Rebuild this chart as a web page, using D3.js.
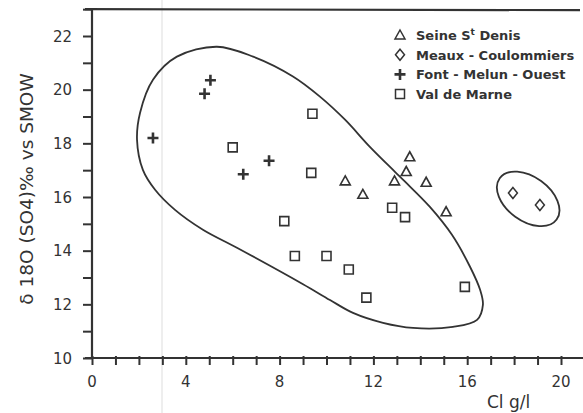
<!DOCTYPE html>
<html>
<head>
<meta charset="utf-8">
<script src="https://cdn.jsdelivr.net/npm/d3@7"></script>
<style>
  body { margin: 0; background: #fff; }
  text { font-family: "DejaVu Sans", sans-serif; fill: #333; }
</style>
</head>
<body>
<svg id="chart"></svg>
<script>
// data (Cl g/l, d18O)
const seineStDenis = [[10.8, 16.6], [11.55, 16.1], [12.9, 16.6], [13.4, 16.95], [13.55, 17.5], [14.25, 16.55], [15.1, 15.45]];
const meauxCoulommiers = [[17.95, 16.15], [19.1, 15.7]];
const fontMelunOuest = [[2.6, 18.2], [4.8, 19.85], [5.05, 20.35], [6.45, 16.85], [7.55, 17.35]];
const valDeMarne = [[6.0, 17.85], [9.4, 19.1], [9.35, 16.9], [8.2, 15.1], [12.8, 15.6], [13.35, 15.25], [8.65, 13.8], [10.0, 13.8], [10.95, 13.3], [11.7, 12.25], [15.9, 12.65]];
const legendLabels = ['Seine St Denis', 'Meaux - Coulommiers', 'Font - Melun - Ouest', 'Val de Marne'];
const xTickLabels = [0, 4, 8, 12, 16, 20];
const yTickLabels = [10, 12, 14, 16, 18, 20, 22];

// hand drawn outlines (data space)
const bigOutline = [[5.33, 21.6], [6.87, 21.23], [8.57, 20.49], [9.72, 19.74], [10.79, 18.88], [11.85, 17.87], [12.92, 16.94],
  [13.35, 16.57], [14.41, 15.63], [15.35, 14.59], [16.12, 13.4], [16.55, 12.54], [16.67, 11.98], [16.42, 11.42], [15.39, 11.16],
  [13.69, 11.12], [12.41, 11.31], [11.13, 11.68], [10.15, 12.16], [9.0, 12.75], [6.2, 14.1], [4.73, 14.78],
  [3.54, 15.52], [2.69, 16.27], [2.17, 17.01], [1.92, 18.13], [2.05, 19.14], [2.6, 20.37], [3.62, 21.23]];
const smallOutline = { cx: 18.6, cy: 15.93, rx: 1.5, ry: 0.82, angle: 36 };

const W = 583, H = 413;
const svg = d3.select('#chart').attr('width', W).attr('height', H);

const x = d3.scaleLinear().domain([0, 20]).range([92, 561]);
const y = d3.scaleLinear().domain([10, 22]).range([358, 36]);
const ink = '#333';

// scan artifact line
svg.append('line').attr('x1', 162).attr('x2', 162).attr('y1', 0).attr('y2', H)
  .attr('stroke', '#ddd').attr('stroke-width', 1);

// axes
const xaxis = d3.axisBottom(x).tickValues(d3.range(0, 22)).tickSize(7).tickFormat('');
const xg = svg.append('g').attr('transform', `translate(0, ${y(10)})`).call(xaxis);
xg.select('.domain').remove();
xg.selectAll('line').attr('stroke', ink).attr('stroke-width', 2).attr('y1', -2);
svg.append('line').attr('x1', 85).attr('x2', W).attr('y1', y(10)).attr('y2', y(10))
  .attr('stroke', ink).attr('stroke-width', 2.2);

const yaxis = d3.axisLeft(y).tickValues(d3.range(10, 24)).tickSize(9).tickFormat('');
const yg = svg.append('g').attr('transform', `translate(${x(0)}, 0)`).call(yaxis);
yg.select('.domain').remove();
yg.selectAll('line').attr('stroke', ink).attr('stroke-width', 2);
svg.append('line').attr('x1', x(0)).attr('x2', x(0)).attr('y1', y(23)).attr('y2', y(10))
  .attr('stroke', ink).attr('stroke-width', 2.2);
// top frame
svg.append('line').attr('x1', 85).attr('x2', 580).attr('y1', y(23)).attr('y2', y(23) + 1)
  .attr('stroke', ink).attr('stroke-width', 2.2);

svg.selectAll('.xl').data(xTickLabels).join('text')
  .attr('x', d => x(d)).attr('y', 387).attr('text-anchor', 'middle')
  .style('font-size', '15px').text(d => d);
svg.selectAll('.yl').data(yTickLabels).join('text')
  .attr('x', 72).attr('y', d => y(d) + 5.5).attr('text-anchor', 'end')
  .style('font-size', '15px').text(d => d);

svg.append('text').attr('transform', 'translate(33, 189) rotate(-90)')
  .attr('text-anchor', 'middle').style('font-size', '18.5px')
  .text('δ 18O (SO4)‰ vs SMOW');
svg.append('text').attr('x', 487).attr('y', 408).style('font-size', '17px').text('Cl g/l');

// outlines
svg.append('path').datum(bigOutline)
  .attr('d', d3.line().x(d => x(d[0])).y(d => y(d[1])).curve(d3.curveCatmullRomClosed.alpha(0.5)))
  .attr('fill', 'none').attr('stroke', ink).attr('stroke-width', 1.8);
svg.append('ellipse')
  .attr('cx', 0).attr('cy', 0)
  .attr('rx', x(smallOutline.rx) - x(0)).attr('ry', y(10) - y(10 + smallOutline.ry))
  .attr('transform', `translate(${x(smallOutline.cx)}, ${y(smallOutline.cy)}) rotate(${smallOutline.angle})`)
  .attr('fill', 'none').attr('stroke', ink).attr('stroke-width', 1.8);

// marker shapes
const shapes = {
  tri: 'M0,-5L5,4L-5,4Z',
  dia: 'M0,-5.5L4.5,0L0,5.5L-4.5,0Z',
  plus: 'M-5.5,0L5.5,0M0,-5.5L0,5.5',
  sq: 'M-4.5,-4.5H4.5V4.5H-4.5Z'
};
function drawPoints(data, shape, sw) {
  svg.append('g').selectAll('path').data(data).join('path')
    .attr('transform', d => `translate(${x(d[0])}, ${y(d[1])})`)
    .attr('d', shapes[shape])
    .attr('fill', 'none').attr('stroke', ink).attr('stroke-width', sw);
}
drawPoints(seineStDenis, 'tri', 1.6);
drawPoints(meauxCoulommiers, 'dia', 1.5);
drawPoints(fontMelunOuest, 'plus', 2.6);
drawPoints(valDeMarne, 'sq', 1.6);

// legend
const legendShapes = ['tri', 'dia', 'plus', 'sq'];
const leg = svg.append('g').selectAll('g').data(legendLabels).join('g')
  .attr('transform', (d, i) => `translate(400, ${35 + i * 19.7})`);
leg.append('path').attr('d', (d, i) => shapes[legendShapes[i]])
  .attr('fill', 'none').attr('stroke', ink)
  .attr('stroke-width', (d, i) => legendShapes[i] === 'plus' ? 2.6 : 1.5);
const lt = leg.append('text').attr('x', 16).attr('y', 5)
  .style('font-size', '13px').style('font-weight', 'bold');
lt.each(function (d) {
  const t = d3.select(this);
  if (d.indexOf('St ') === 6) {
    t.append('tspan').text('Seine S');
    t.append('tspan').attr('dy', -5).style('font-size', '9px').text('t');
    t.append('tspan').attr('dy', 5).text(' Denis');
  } else {
    t.text(d);
  }
});
</script>
</body>
</html>
